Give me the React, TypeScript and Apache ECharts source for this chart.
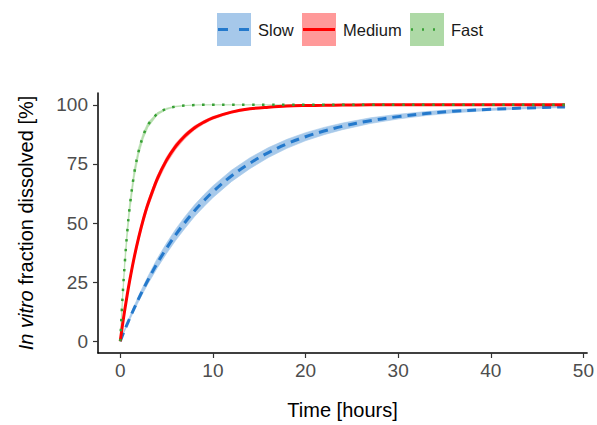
import React, { useEffect, useRef } from "react";
import * as echarts from "echarts";

const timeHours = [0, 0.25, 0.5, 0.75, 1, 1.5, 2, 2.5, 3, 4, 5, 6, 7, 8, 9, 10, 12, 14, 16, 18, 20, 22, 24, 27, 30, 33, 36, 40, 44, 48];

const slowValues = [0, 2.5, 4.9, 7.2, 9.5, 13.9, 18.1, 22.1, 25.9, 33.0, 39.3, 45.1, 50.3, 55.1, 59.3, 63.2, 69.9, 75.3, 79.8, 83.5, 86.5, 88.9, 90.9, 93.3, 95.0, 96.3, 97.3, 98.1, 98.7, 99.1];
const slowSpread = [0, 0.3, 0.5, 0.6, 0.7, 1.0, 1.2, 1.4, 1.6, 2.0, 2.2, 2.4, 2.5, 2.5, 2.5, 2.5, 2.4, 2.3, 2.1, 1.9, 1.7, 1.55, 1.4, 1.2, 1.0, 0.85, 0.7, 0.5, 0.35, 0.25];

const mediumValues = [0, 7.0, 13.5, 19.5, 25.2, 35.3, 44.0, 51.6, 58.1, 68.7, 76.6, 82.5, 86.9, 90.2, 92.6, 94.5, 96.9, 98.3, 99.0, 99.5, 99.7, 99.8, 99.9, 100, 100, 100, 100, 100, 100, 100];
const mediumSpread = [0, 0.4, 0.7, 0.9, 1.1, 1.3, 1.4, 1.5, 1.5, 1.5, 1.4, 1.3, 1.1, 0.9, 0.7, 0.6, 0.4, 0.25, 0.15, 0.1, 0.05, 0.05, 0, 0, 0, 0, 0, 0, 0, 0];

const fastValues = [0, 18.6, 33.6, 45.9, 56.0, 70.8, 80.6, 87.1, 91.5, 96.2, 98.3, 99.3, 99.7, 99.9, 100, 100, 100, 100, 100, 100, 100, 100, 100, 100, 100, 100, 100, 100, 100, 100];
const fastSpread = [0, 1.2, 1.8, 2.0, 2.0, 1.8, 1.5, 1.2, 1.0, 0.5, 0.3, 0.15, 0.05, 0, 0, 0, 0, 0, 0, 0, 0, 0, 0, 0, 0, 0, 0, 0, 0, 0];

const xTicks = [0, 10, 20, 30, 40, 50];
const yTicks = [0, 25, 50, 75, 100];

const seriesNames = ["Slow", "Medium", "Fast"];

const FONT = "'Liberation Sans', Arial, sans-serif";

function bandSeries(values: number[], spread: number[], color: string) {
  const rows = timeHours.map((t, i) => [t, values[i] - spread[i], Math.min(100, values[i] + spread[i])]);
  return {
    type: "custom",
    silent: true,
    data: rows,
    encode: { x: 0, y: [1, 2] },
    clip: true,
    z: 1,
    renderItem: (params: any, api: any) => {
      if (params.dataIndex !== 0) return null;
      const upper = rows.map((r) => api.coord([r[0], r[2]]));
      const lower = rows.map((r) => api.coord([r[0], r[1]])).reverse();
      return {
        type: "polygon",
        shape: { points: upper.concat(lower), smooth: 0 },
        style: { fill: color, stroke: color, lineWidth: 0.6 },
      };
    },
  };
}

function lineSeries(name: string, values: number[], color: string, width: number, type: any) {
  return {
    name,
    type: "line",
    data: timeHours.map((t, i) => [t, values[i]]),
    symbol: "none",
    smooth: 0.35,
    lineStyle: { color, width, type, cap: "butt" },
    z: 3,
  };
}

export default function App() {
  const ref = useRef<HTMLDivElement>(null);
  useEffect(() => {
    if (!ref.current) return;
    document.body.style.margin = "0";
    const chart = echarts.init(ref.current, undefined, { renderer: "svg" });
    const legendX = [217, 302, 410];
    const legendFill = ["#a6c8ea", "#ff9999", "#aed9a6"];
    const legendLine = ["#2479cc", "#ff0000", "#37a034"];
    const legendDash: any[] = [[10, 11], null, [2, 9]];
    const graphics: any[] = [];
    seriesNames.forEach((n, i) => {
      graphics.push({
        type: "rect",
        shape: { x: legendX[i], y: 13, width: 34, height: 33 },
        style: { fill: legendFill[i] },
      });
      graphics.push({
        type: "line",
        shape: { x1: legendX[i] + 1, y1: 29.5, x2: legendX[i] + 33, y2: 29.5 },
        style: { stroke: legendLine[i], lineWidth: i === 2 ? 2.5 : 3, lineDash: legendDash[i] || undefined },
      });
      graphics.push({
        type: "text",
        x: legendX[i] + 41,
        y: 30,
        style: { text: n, fontSize: 16.5, fontFamily: FONT, fill: "#1a1a1a", verticalAlign: "middle", align: "left" },
      });
    });

    chart.setOption({
      animation: false,
      backgroundColor: "#ffffff",
      grid: { left: 98, right: 7, top: 93, bottom: 68, containLabel: false },
      xAxis: {
        type: "value",
        min: -2.4,
        max: 50.4,
        name: "Time [hours]",
        nameLocation: "middle",
        nameGap: 47,
        nameTextStyle: { fontSize: 20, fontFamily: FONT, color: "#000" },
        splitLine: { show: false },
        axisLine: { show: true, onZero: false, lineStyle: { color: "#000", width: 1.5 } },
        axisTick: { show: true, length: 5, customValues: xTicks, lineStyle: { color: "#333", width: 1.2 } },
        axisLabel: { customValues: xTicks, fontSize: 19, fontFamily: FONT, color: "#4d4d4d", margin: 8 },
      },
      yAxis: {
        type: "value",
        min: -5,
        max: 105,
        name: "{i|In vitro} fraction dissolved [%]",
        nameLocation: "middle",
        nameRotate: 90,
        nameGap: 62,
        nameTextStyle: {
          fontSize: 20,
          fontFamily: FONT,
          color: "#000",
          rich: { i: { fontStyle: "italic", fontSize: 20, fontFamily: FONT, color: "#000" } },
        },
        splitLine: { show: false },
        axisLine: { show: true, onZero: false, lineStyle: { color: "#000", width: 1.5 } },
        axisTick: { show: true, length: 5, customValues: yTicks, lineStyle: { color: "#333", width: 1.2 } },
        axisLabel: { customValues: yTicks, fontSize: 19, fontFamily: FONT, color: "#4d4d4d", margin: 10 },
      },
      graphic: graphics,
      series: [
        bandSeries(slowValues, slowSpread, "#a7c9ea"),
        bandSeries(mediumValues, mediumSpread, "#ff9c9c"),
        bandSeries(fastValues, fastSpread, "#b3ddab"),
        lineSeries("Slow", slowValues, "#2479cc", 3, [9, 6]),
        lineSeries("Medium", mediumValues, "#ff0000", 3, "solid"),
        lineSeries("Fast", fastValues, "#37a034", 2.5, [2.5, 7.5]),
      ],
    });
    return () => chart.dispose();
  }, []);
  return <div ref={ref} style={{ width: 597, height: 425 }} />;
}
